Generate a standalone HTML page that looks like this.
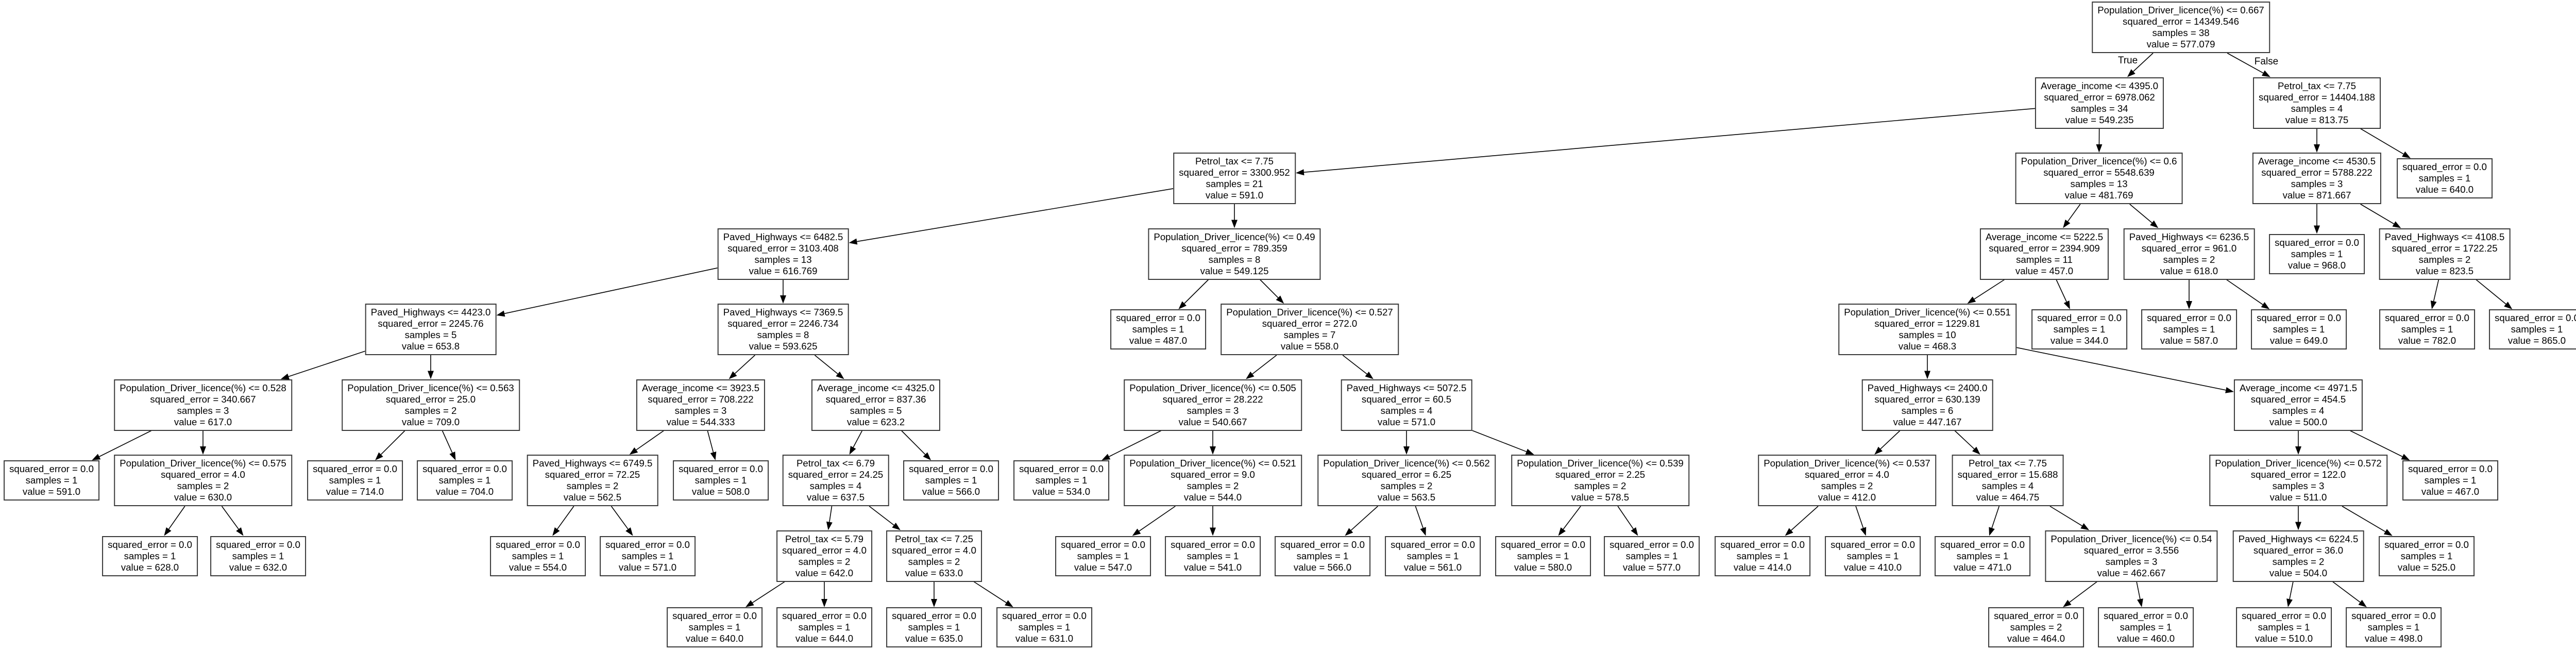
<!DOCTYPE html>
<html><head><meta charset="utf-8">
<style>
html,body{margin:0;padding:0;background:#fff;}
#c{position:relative;width:5024px;height:1261px;overflow:hidden;background:#fff;}
svg{position:absolute;left:0;top:0;}
.n{position:absolute;transform:translate(-50%,-50%);border:2px solid #3a3a3a;padding:4px 9px;
font-family:"Liberation Sans",Arial,sans-serif;font-size:18.6px;line-height:22px;text-align:center;
white-space:nowrap;background:#fff;color:#000;box-sizing:border-box;}
.lb{position:absolute;font-family:"Liberation Sans",Arial,sans-serif;font-size:19px;transform:translate(-50%,-50%);}
</style></head><body>
<div id="c">
<svg id="s" width="5024" height="1261"></svg>
<div class="lb" style="left:4130px;top:118px">True</div>
<div class="lb" style="left:4399px;top:120px">False</div>
</div>
<script>
var leaf=function(v,s){return ["squared_error = 0.0","samples = "+(s||1),"value = "+v];};
var N=[
["root",4233,0,null,["Population_Driver_licence(%) <= 0.667","squared_error = 14349.546","samples = 38","value = 577.079"]],
["A",4075,1,"root",["Average_income <= 4395.0","squared_error = 6978.062","samples = 34","value = 549.235"]],
["B",4497,1,"root",["Petrol_tax <= 7.75","squared_error = 14404.188","samples = 4","value = 813.75"]],
["C",2396,2,"A",["Petrol_tax <= 7.75","squared_error = 3300.952","samples = 21","value = 591.0"]],
["D",4074,2,"A",["Population_Driver_licence(%) <= 0.6","squared_error = 5548.639","samples = 13","value = 481.769"]],
["E",4497,2,"B",["Average_income <= 4530.5","squared_error = 5788.222","samples = 3","value = 871.667"]],
["F",4745,2,"B",leaf("640.0")],
["G",1520,3,"C",["Paved_Highways <= 6482.5","squared_error = 3103.408","samples = 13","value = 616.769"]],
["H",2396,3,"C",["Population_Driver_licence(%) <= 0.49","squared_error = 789.359","samples = 8","value = 549.125"]],
["I",3968,3,"D",["Average_income <= 5222.5","squared_error = 2394.909","samples = 11","value = 457.0"]],
["J",4249,3,"D",["Paved_Highways <= 6236.5","squared_error = 961.0","samples = 2","value = 618.0"]],
["K",4497,3,"E",leaf("968.0")],
["L",4745,3,"E",["Paved_Highways <= 4108.5","squared_error = 1722.25","samples = 2","value = 823.5"]],
["M",836,4,"G",["Paved_Highways <= 4423.0","squared_error = 2245.76","samples = 5","value = 653.8"]],
["Nn",1520,4,"G",["Paved_Highways <= 7369.5","squared_error = 2246.734","samples = 8","value = 593.625"]],
["O",2248,4,"H",leaf("487.0")],
["P",2542,4,"H",["Population_Driver_licence(%) <= 0.527","squared_error = 272.0","samples = 7","value = 558.0"]],
["Q",3741,4,"I",["Population_Driver_licence(%) <= 0.551","squared_error = 1229.81","samples = 10","value = 468.3"]],
["R",4036,4,"I",leaf("344.0")],
["S",4249,4,"J",leaf("587.0")],
["T",4462,4,"J",leaf("649.0")],
["U",4711,4,"L",leaf("782.0")],
["V",4924,4,"L",leaf("865.0")],
["W",394,5,"M",["Population_Driver_licence(%) <= 0.528","squared_error = 340.667","samples = 3","value = 617.0"]],
["X",836,5,"M",["Population_Driver_licence(%) <= 0.563","squared_error = 25.0","samples = 2","value = 709.0"]],
["Y",1360,5,"Nn",["Average_income <= 3923.5","squared_error = 708.222","samples = 3","value = 544.333"]],
["Z",1700,5,"Nn",["Average_income <= 4325.0","squared_error = 837.36","samples = 5","value = 623.2"]],
["O1",2354,5,"P",["Population_Driver_licence(%) <= 0.505","squared_error = 28.222","samples = 3","value = 540.667"]],
["P1",2730,5,"P",["Paved_Highways <= 5072.5","squared_error = 60.5","samples = 4","value = 571.0"]],
["Q1",3741,5,"Q",["Paved_Highways <= 2400.0","squared_error = 630.139","samples = 6","value = 447.167"]],
["Q2",4461,5,"Q",["Average_income <= 4971.5","squared_error = 454.5","samples = 4","value = 500.0"]],
["l591",100,6,"W",leaf("591.0")],
["W2",394,6,"W",["Population_Driver_licence(%) <= 0.575","squared_error = 4.0","samples = 2","value = 630.0"]],
["l714",689,6,"X",leaf("714.0")],
["l704",902,6,"X",leaf("704.0")],
["Y1",1150,6,"Y",["Paved_Highways <= 6749.5","squared_error = 72.25","samples = 2","value = 562.5"]],
["l508",1399,6,"Y",leaf("508.0")],
["Z1",1622,6,"Z",["Petrol_tax <= 6.79","squared_error = 24.25","samples = 4","value = 637.5"]],
["l566a",1846,6,"Z",leaf("566.0")],
["l534",2060,6,"O1",leaf("534.0")],
["O2",2354,6,"O1",["Population_Driver_licence(%) <= 0.521","squared_error = 9.0","samples = 2","value = 544.0"]],
["P2",2730,6,"P1",["Population_Driver_licence(%) <= 0.562","squared_error = 6.25","samples = 2","value = 563.5"]],
["P3",3106,6,"P1",["Population_Driver_licence(%) <= 0.539","squared_error = 2.25","samples = 2","value = 578.5"]],
["Q3",3585,6,"Q1",["Population_Driver_licence(%) <= 0.537","squared_error = 4.0","samples = 2","value = 412.0"]],
["Q4",3897,6,"Q1",["Petrol_tax <= 7.75","squared_error = 15.688","samples = 4","value = 464.75"]],
["Q5",4461,6,"Q2",["Population_Driver_licence(%) <= 0.572","squared_error = 122.0","samples = 3","value = 511.0"]],
["l467",4756,6,"Q2",leaf("467.0")],
["l628",291,7,"W2",leaf("628.0")],
["l632",501,7,"W2",leaf("632.0")],
["l554",1044,7,"Y1",leaf("554.0")],
["l571",1257,7,"Y1",leaf("571.0")],
["Z2",1600,7,"Z1",["Petrol_tax <= 5.79","squared_error = 4.0","samples = 2","value = 642.0"]],
["Z3",1813,7,"Z1",["Petrol_tax <= 7.25","squared_error = 4.0","samples = 2","value = 633.0"]],
["l547",2141,7,"O2",leaf("547.0")],
["l541",2354,7,"O2",leaf("541.0")],
["l566b",2567,7,"P2",leaf("566.0")],
["l561",2781,7,"P2",leaf("561.0")],
["l580",2995,7,"P3",leaf("580.0")],
["l577",3206,7,"P3",leaf("577.0")],
["l414",3421,7,"Q3",leaf("414.0")],
["l410",3635,7,"Q3",leaf("410.0")],
["l471",3848,7,"Q4",leaf("471.0")],
["Q6",4137,7,"Q4",["Population_Driver_licence(%) <= 0.54","squared_error = 3.556","samples = 3","value = 462.667"]],
["Q7",4461,7,"Q5",["Paved_Highways <= 6224.5","squared_error = 36.0","samples = 2","value = 504.0"]],
["l525",4710,7,"Q5",leaf("525.0")],
["l640",1387,8,"Z2",leaf("640.0")],
["l644",1600,8,"Z2",leaf("644.0")],
["l635",1813,8,"Z3",leaf("635.0")],
["l631",2027,8,"Z3",leaf("631.0")],
["l464",3952,8,"Q6",leaf("464.0",2)],
["l460",4165,8,"Q6",leaf("460.0")],
["l510",4433,8,"Q7",leaf("510.0")],
["l498",4646,8,"Q7",leaf("498.0")]
];
var c=document.getElementById('c'),s=document.getElementById('s'),M={};
function ry(r){return r==8?1217:53+146.5*r;}
N.forEach(function(n){
 var d=document.createElement('div');d.className='n';
 d.style.left=n[1]+'px';d.style.top=ry(n[2])+'px';
 d.innerHTML=n[4].map(function(t){return t.replace(/&/g,'&amp;').replace(/</g,'&lt;');}).join('<br>');
 c.appendChild(d);
 M[n[0]]={x:n[1],y:ry(n[2]),el:d};
});
var h="";
N.forEach(function(n){
 if(!n[3])return;
 var p=M[n[3]],q=M[n[0]];
 var pw=p.el.offsetWidth/2,ph=p.el.offsetHeight/2,qw=q.el.offsetWidth/2,qh=q.el.offsetHeight/2;
 var dx=q.x-p.x,dy=q.y-p.y;
 var t1=Math.min(dx?pw/Math.abs(dx):1e9,ph/Math.abs(dy));
 var t2=Math.min(dx?qw/Math.abs(dx):1e9,qh/Math.abs(dy));
 var x1=p.x+dx*t1,y1=p.y+dy*t1,x2=q.x-dx*t2,y2=q.y-dy*t2;
 var len=Math.sqrt(dx*dx+dy*dy),ux=dx/len,uy=dy/len;
 var bx=x2-ux*16,by=y2-uy*16;
 h+='<line x1="'+x1+'" y1="'+y1+'" x2="'+bx+'" y2="'+by+'" stroke="#000" stroke-width="1.6"/>';
 h+='<polygon points="'+x2+','+y2+' '+(bx-uy*6)+','+(by+ux*6)+' '+(bx+uy*6)+','+(by-ux*6)+'" fill="#000"/>';
});
document.getElementById('s').innerHTML=h;
</script>
</body></html>
